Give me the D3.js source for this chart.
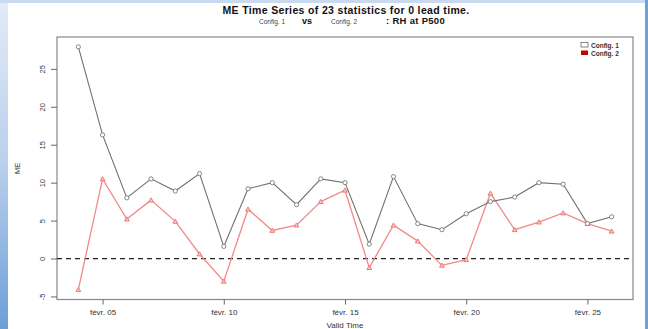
<!DOCTYPE html>
<html><head><meta charset="utf-8">
<script src="https://cdn.jsdelivr.net/npm/d3@7"></script>
<style>body{margin:0;background:#fff}svg{display:block}text{font-family:"Liberation Sans",Arial,sans-serif}</style>
</head><body>
<script>
const dates = ["2024-02-04","2024-02-05","2024-02-06","2024-02-07","2024-02-08","2024-02-09","2024-02-10","2024-02-11","2024-02-12","2024-02-13","2024-02-14","2024-02-15","2024-02-16","2024-02-17","2024-02-18","2024-02-19","2024-02-20","2024-02-21","2024-02-22","2024-02-23","2024-02-24","2024-02-25","2024-02-26"];
const config1 = [27.9,16.3,8.0,10.5,8.9,11.2,1.6,9.2,10.0,7.1,10.5,10.0,1.9,10.8,4.6,3.8,5.9,7.5,8.1,10.0,9.8,4.6,5.5];
const config2 = [-4.1,10.5,5.2,7.7,4.9,0.6,-3.0,6.5,3.7,4.4,7.5,9.0,-1.2,4.4,2.3,-0.9,-0.15,8.6,3.8,4.8,6.0,4.6,3.6];
const xTickDates = ["2024-02-05","2024-02-10","2024-02-15","2024-02-20","2024-02-25"];
const xTickLabels = ["févr. 05","févr. 10","févr. 15","févr. 20","févr. 25"];
const yTicks = [-5,0,5,10,15,20,25];

const W=648,H=329;
const svg=d3.select("body").append("svg").attr("width",W).attr("height",H);
const parse=d3.utcParse("%Y-%m-%d");
const xs=dates.map(parse);

// slide background strips
const defs=svg.append("defs");
const g1=defs.append("linearGradient").attr("id","lg").attr("x1",0).attr("y1",0).attr("x2",0).attr("y2",1);
g1.append("stop").attr("offset","0").attr("stop-color","#e3ecf7");
g1.append("stop").attr("offset","0.5").attr("stop-color","#b9cfeb");
g1.append("stop").attr("offset","1").attr("stop-color","#6d9fd8");
svg.append("rect").attr("x",0).attr("y",0).attr("width",8).attr("height",H).attr("fill","url(#lg)");
svg.append("rect").attr("x",0).attr("y",0).attr("width",W).attr("height",3).attr("fill","#c9daf0");
svg.append("rect").attr("x",645).attr("y",0).attr("width",3).attr("height",H).attr("fill","#6fa1d8");

const L=57,R=633,T=37,B=299.5;
const ext=d3.extent(xs), span=ext[1]-ext[0];
const x=d3.scaleUtc().domain([new Date(+ext[0]-0.04*span),new Date(+ext[1]+0.04*span)]).range([L,R]);
const y=d3.scaleLinear().domain([-5.4,29.2]).range([B,T]);

// box
svg.append("rect").attr("x",L).attr("y",T).attr("width",R-L).attr("height",B-T).attr("fill","none").attr("stroke","#888").attr("stroke-width",1.2);

// y axis
const ya=svg.append("g").attr("transform",`translate(${L},0)`)
 .call(d3.axisLeft(y).tickValues(yTicks).tickSize(6).tickPadding(4).tickFormat(d=>d));
ya.select(".domain").remove();
ya.selectAll(".tick line").attr("stroke","#666");
ya.selectAll(".tick text").attr("font-size",7.5).attr("fill","#333").attr("transform","rotate(-90)")
  .attr("x",0).attr("dy",0).attr("y",-12).attr("text-anchor","middle");

// x axis
const xa=svg.append("g").attr("transform",`translate(0,${B})`)
 .call(d3.axisBottom(x).tickValues(xTickDates.map(parse)).tickSize(5).tickPadding(5).tickFormat((d,i)=>xTickLabels[i]));
xa.select(".domain").remove();
xa.selectAll(".tick line").attr("stroke","#666");
xa.selectAll(".tick text").attr("font-size",8).attr("fill","#333");

// zero line
svg.append("line").attr("x1",L).attr("x2",R).attr("y1",y(0)).attr("y2",y(0))
 .attr("stroke","#222").attr("stroke-width",1.3).attr("stroke-dasharray","5,4");

// series 2
const line=d3.line().x((d,i)=>x(xs[i])).y(d=>y(d));
svg.append("path").datum(config2).attr("d",line).attr("fill","none").attr("stroke","#f08a8a").attr("stroke-width",1.3);
const tri=d3.symbol().type(d3.symbolTriangle).size(10);
svg.selectAll(".t").data(config2).join("path").attr("d",tri)
 .attr("transform",(d,i)=>`translate(${x(xs[i])},${y(d)+0.5})`)
 .attr("fill","#f9c4c4").attr("stroke","#ee7070").attr("stroke-width",0.9);

// series 1
svg.append("path").datum(config1).attr("d",line).attr("fill","none").attr("stroke","#707070").attr("stroke-width",1.1);
svg.selectAll(".c").data(config1).join("circle")
 .attr("cx",(d,i)=>x(xs[i])).attr("cy",d=>y(d)).attr("r",2.1)
 .attr("fill","#fff").attr("stroke","#7a7a7a").attr("stroke-width",0.9);

// legend
svg.append("rect").attr("x",581).attr("y",42.5).attr("width",7).attr("height",4.5).attr("fill","#fff").attr("stroke","#555").attr("stroke-width",0.7);
svg.append("rect").attr("x",581).attr("y",50.5).attr("width",7).attr("height",4.5).attr("fill","#cc0000");
svg.append("text").attr("x",591).attr("y",47.5).attr("font-size",6.5).attr("font-weight","bold").attr("font-family","DejaVu Sans").attr("fill","#333").text("Config. 1");
svg.append("text").attr("x",591).attr("y",55.5).attr("font-size",6.5).attr("font-weight","bold").attr("font-family","DejaVu Sans").attr("fill","#333").text("Config. 2");

// titles
svg.append("text").attr("x",346).attr("y",14).attr("text-anchor","middle").attr("font-size",10.5).attr("letter-spacing",0.35).attr("font-weight","bold").attr("fill","#111")
 .text("ME Time Series of 23 statistics for 0 lead time.");
svg.append("text").attr("x",272).attr("y",23.5).attr("text-anchor","middle").attr("font-size",6.5).attr("font-family","DejaVu Serif").attr("fill","#444").text("Config. 1");
svg.append("text").attr("x",307).attr("y",24).attr("text-anchor","middle").attr("font-size",9).attr("font-weight","bold").attr("fill","#111").text("vs");
svg.append("text").attr("x",344).attr("y",23.5).attr("text-anchor","middle").attr("font-size",6.5).attr("font-family","DejaVu Serif").attr("fill","#444").text("Config. 2");
svg.append("text").attr("x",386).attr("y",24).attr("font-size",9.5).attr("letter-spacing",0.3).attr("font-weight","bold").attr("fill","#111").text(": RH at P500");

// axis titles
svg.append("text").attr("transform",`translate(20,${(T+B)/2}) rotate(-90)`).attr("text-anchor","middle").attr("font-size",7.5).attr("fill","#333").text("ME");
svg.append("text").attr("x",(L+R)/2).attr("y",328).attr("text-anchor","middle").attr("font-size",8).attr("fill","#333").text("Valid Time");
</script>
</body></html>
